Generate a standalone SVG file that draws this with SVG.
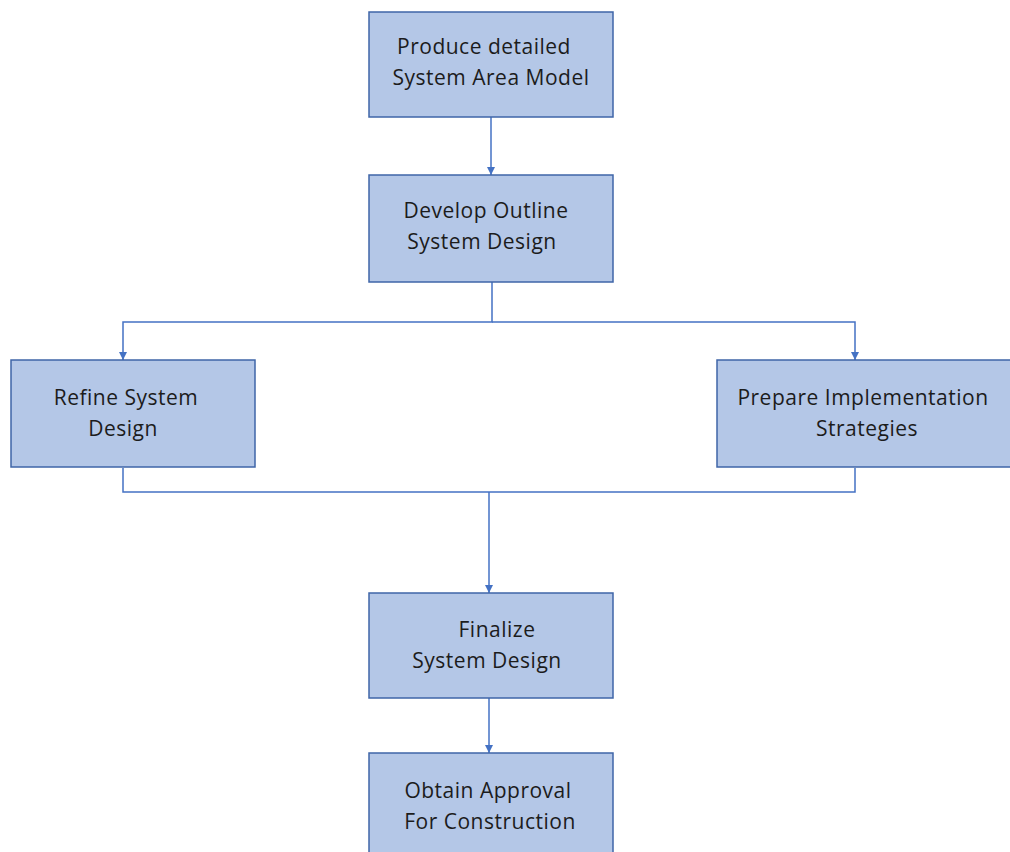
<svg xmlns="http://www.w3.org/2000/svg" width="1010" height="852" viewBox="0 0 1010 852">
  <style>
    .box { fill: #b4c7e7; stroke: #3f65a8; stroke-width: 1.5; }
    .lbl { font-family: "Open Sans", "Noto Sans", sans-serif; font-size: 21px; letter-spacing: 0.5px; fill: #1c1c1c; text-anchor: middle; }
    .wire { fill: none; stroke: #4472c4; stroke-width: 1.5; }
  </style>
  <defs>
    <marker id="arrow" viewBox="0 0 10 10" refX="10" refY="5" markerWidth="8" markerHeight="8" markerUnits="userSpaceOnUse" orient="auto">
      <path d="M0,0 L10,5 L0,10 z" fill="#4472c4"/>
    </marker>
  </defs>
  <rect width="1010" height="852" fill="#ffffff"/>

  <g id="connectors">
    <path class="wire" d="M491,117 V175" marker-end="url(#arrow)"/>
    <path class="wire" d="M492,282 V322 H123 V360" marker-end="url(#arrow)"/>
    <path class="wire" d="M492,322 H855 V360" marker-end="url(#arrow)"/>
    <path class="wire" d="M123,468 V492 H855 V468"/>
    <path class="wire" d="M489,492 V593" marker-end="url(#arrow)"/>
    <path class="wire" d="M489,698 V753" marker-end="url(#arrow)"/>
  </g>

  <g id="produce-model">
    <rect class="box" x="369" y="12" width="244" height="105"/>
    <text class="lbl" x="484" y="54">Produce detailed</text>
    <text class="lbl" x="491" y="85">System Area Model</text>
  </g>

  <g id="outline-design">
    <rect class="box" x="369" y="175" width="244" height="107"/>
    <text class="lbl" x="486" y="218">Develop Outline</text>
    <text class="lbl" x="482" y="249">System Design</text>
  </g>

  <g id="refine-design">
    <rect class="box" x="11" y="360" width="244" height="107"/>
    <text class="lbl" x="126" y="405">Refine System</text>
    <text class="lbl" x="123" y="436">Design</text>
  </g>

  <g id="implementation-strategies">
    <rect class="box" x="717" y="360" width="300" height="107"/>
    <text class="lbl" x="863" y="405">Prepare Implementation</text>
    <text class="lbl" x="867" y="436">Strategies</text>
  </g>

  <g id="finalize-design">
    <rect class="box" x="369" y="593" width="244" height="105"/>
    <text class="lbl" x="497" y="637">Finalize</text>
    <text class="lbl" x="487" y="668">System Design</text>
  </g>

  <g id="obtain-approval">
    <rect class="box" x="369" y="753" width="244" height="110"/>
    <text class="lbl" x="488" y="798">Obtain Approval</text>
    <text class="lbl" x="490" y="829">For Construction</text>
  </g>
</svg>
